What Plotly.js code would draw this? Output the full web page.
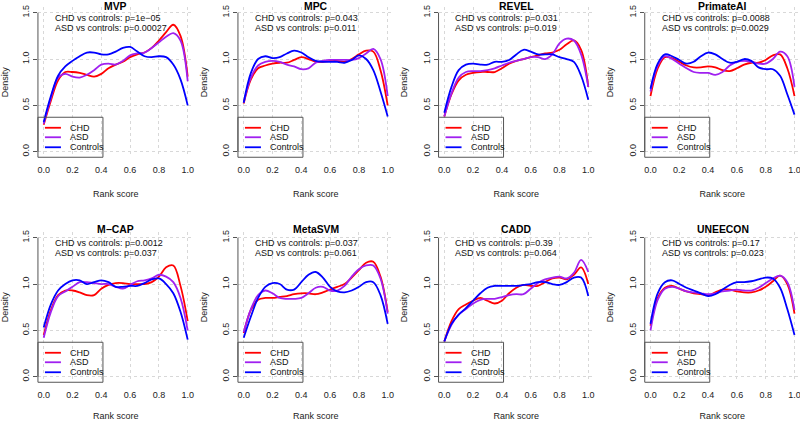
<!DOCTYPE html>
<html>
<head>
<meta charset="utf-8">
<script src="https://cdn.plot.ly/plotly-3.0.1.min.js"></script>
<style>html,body{margin:0;padding:0;background:#fff}</style>
</head>
<body>
<div id="graph" style="width:800px;height:421px"></div>
<script>
// Rank score grid the densities were read at
const rankScore = [0, 0.05, 0.1, 0.15, 0.2, 0.25, 0.3, 0.35, 0.4, 0.45, 0.5,
                   0.55, 0.6, 0.65, 0.7, 0.75, 0.8, 0.85, 0.9, 0.95, 1];

const methods = ['MVP', 'MPC', 'REVEL', 'PrimateAI', 'M\u2212CAP', 'MetaSVM', 'CADD', 'UNEECON'];
const pCHD = ['1e\u221205', '0.043', '0.031', '0.0088', '0.0012', '0.037', '0.39', '0.17'];
const pASD = ['0.00027', '0.011', '0.019', '0.0029', '0.037', '0.061', '0.064', '0.023'];

const groups = ['CHD', 'ASD', 'Controls'];
const groupColors = ['#FF0000', '#A020F0', '#0000FF'];

// density per method, same order as methods
const chdDensity = [
  [0.29,0.55,0.77,0.86,0.86,0.85,0.83,0.81,0.84,0.90,0.94,0.97,1.02,1.05,1.07,1.12,1.20,1.29,1.37,1.25,0.81],
  [0.52,0.78,0.90,0.93,0.95,0.96,0.96,0.99,1.02,1.00,0.97,0.97,0.98,0.98,0.97,1.00,1.05,1.09,1.08,0.88,0.50],
  [0.38,0.62,0.77,0.83,0.85,0.86,0.86,0.86,0.90,0.95,0.98,1.00,1.02,1.04,1.06,1.07,1.10,1.16,1.20,1.10,0.70],
  [0.60,0.90,1.02,1.01,0.97,0.93,0.91,0.91,0.92,0.91,0.88,0.87,0.90,0.94,0.96,0.96,0.99,1.04,1.05,0.90,0.60],
  [0.45,0.72,0.88,0.93,0.93,0.91,0.88,0.88,0.95,0.99,1.01,1.01,1.00,1.00,1.00,1.02,1.08,1.18,1.20,0.98,0.60],
  [0.47,0.72,0.83,0.85,0.85,0.86,0.87,0.89,0.90,0.90,0.89,0.91,0.94,0.97,1.00,1.07,1.15,1.23,1.24,1.08,0.70],
  [0.38,0.60,0.73,0.78,0.82,0.85,0.82,0.79,0.82,0.90,0.96,0.99,0.98,0.98,1.02,1.06,1.07,1.05,1.10,1.18,1.00],
  [0.55,0.85,0.96,0.98,0.95,0.92,0.90,0.89,0.88,0.91,0.94,0.94,0.92,0.91,0.91,0.93,0.97,1.03,1.09,1.00,0.68]
];
const asdDensity = [
  [0.30,0.58,0.80,0.84,0.81,0.80,0.83,0.88,0.94,0.95,0.94,0.98,1.04,1.06,1.07,1.12,1.18,1.24,1.28,1.20,0.76],
  [0.53,0.80,0.93,0.97,0.98,0.97,0.94,0.92,0.89,0.90,0.96,0.98,0.99,0.99,0.99,0.99,1.01,1.06,1.11,1.00,0.60],
  [0.38,0.63,0.80,0.86,0.87,0.87,0.88,0.90,0.93,0.96,0.98,1.00,1.02,1.02,1.00,1.05,1.17,1.22,1.20,1.05,0.70],
  [0.65,0.93,1.03,1.00,0.95,0.90,0.86,0.85,0.85,0.83,0.86,0.93,0.97,0.98,0.97,0.95,0.95,1.00,1.08,1.03,0.70],
  [0.42,0.70,0.87,0.92,0.97,1.02,1.02,1.01,1.00,1.00,0.97,0.95,0.99,1.03,1.04,1.06,1.10,1.08,1.02,0.85,0.50],
  [0.48,0.73,0.88,0.93,0.90,0.85,0.84,0.84,0.85,0.90,0.96,0.97,0.93,0.93,0.98,1.08,1.16,1.20,1.20,1.06,0.68],
  [0.38,0.56,0.67,0.73,0.79,0.83,0.84,0.84,0.86,0.88,0.89,0.89,0.95,1.01,1.05,1.07,1.08,1.06,1.12,1.26,1.13],
  [0.50,0.83,0.95,0.97,0.95,0.92,0.91,0.90,0.89,0.90,0.92,0.93,0.94,0.93,0.93,0.96,1.01,1.06,1.09,1.02,0.72]
];
const ctrlDensity = [
  [0.32,0.60,0.82,0.92,0.98,1.03,1.07,1.07,1.05,1.05,1.08,1.12,1.13,1.08,1.03,1.02,1.03,1.02,0.94,0.78,0.50],
  [0.53,0.85,1.00,1.03,1.01,1.02,1.06,1.09,1.07,1.02,0.98,0.97,0.97,0.97,0.96,0.99,1.04,1.00,0.88,0.65,0.38],
  [0.42,0.70,0.88,0.94,0.95,0.94,0.94,0.97,0.97,0.99,1.05,1.10,1.08,1.05,1.05,1.05,1.02,1.00,0.97,0.82,0.56],
  [0.68,0.95,1.05,1.03,0.99,0.95,0.97,1.03,1.07,1.05,1.00,0.96,0.97,1.00,0.98,0.91,0.89,0.89,0.82,0.62,0.40],
  [0.53,0.78,0.93,1.00,1.04,1.04,1.00,1.02,1.04,1.02,0.97,0.97,0.98,0.98,1.01,1.05,1.06,1.00,0.90,0.70,0.40],
  [0.42,0.65,0.85,0.97,1.01,1.00,0.94,0.94,1.02,1.10,1.13,1.07,0.97,0.92,0.91,0.93,0.97,1.02,1.02,0.88,0.57],
  [0.38,0.57,0.67,0.74,0.82,0.90,0.96,0.98,0.98,0.98,0.98,0.99,1.00,1.02,1.02,1.00,0.99,1.02,1.07,1.07,0.87],
  [0.57,0.90,1.02,1.04,1.00,0.96,0.93,0.90,0.87,0.89,0.94,0.99,1.02,1.02,1.03,1.05,1.07,1.06,0.96,0.73,0.45]
];
const allDensity = [chdDensity, asdDensity, ctrlDensity];

// page geometry (pixels)
const W = 800, H = 421;
const zeroX = [43.7, 243.7, 444.3, 650.5];   // where rank score 0 sits in each column
const zeroY = [151.7, 376.7];                // where density 0 sits in each row
const titleY = [6, 229];                     // centre of the panel titles
const pxPerX = 144, pxPerY = 92.67;
const baseFont = 'Liberation Sans, Arial, Helvetica, sans-serif';
const fs = 9;

const traces = [];
const layout = {
  width: W, height: H,
  margin: {l: 0, r: 0, t: 0, b: 0},
  paper_bgcolor: '#fff', plot_bgcolor: '#fff',
  font: {family: baseFont, size: fs, color: '#000'},
  showlegend: false,
  shapes: [], annotations: []
};

methods.forEach((name, i) => {
  const col = i % 4, row = Math.floor(i / 4);
  const n = i === 0 ? '' : String(i + 1);
  const xa = 'x' + n, ya = 'y' + n;

  const leftPx = zeroX[col] - 0.04 * pxPerX;
  const rightPx = Math.min(W, zeroX[col] + 1.04 * pxPerX);
  const botPx = zeroY[row] + 0.06 * pxPerY;
  const topPx = zeroY[row] - 1.56 * pxPerY;
  const plotW = rightPx - leftPx, plotH = botPx - topPx;

  layout['xaxis' + n] = {
    domain: [leftPx / W, rightPx / W],
    range: [-0.04, (rightPx - zeroX[col]) / pxPerX],
    anchor: ya,
    tickvals: [0, 0.2, 0.4, 0.6, 0.8, 1.0],
    tickformat: '.1f',
    ticklabeloverflow: 'allow',
    ticks: '', showline: false, zeroline: false,
    showgrid: true, gridcolor: '#d8d8d8', griddash: 'dot', gridwidth: 1,
    tickfont: {size: fs, color: '#222'},
    ticklabelstandoff: 6,
    title: {text: 'Rank score', font: {size: fs, color: '#222'}, standoff: 16},
    fixedrange: true
  };
  layout['yaxis' + n] = {
    domain: [1 - botPx / H, 1 - topPx / H],
    range: [-0.06, 1.56],
    anchor: xa,
    tickvals: [0, 0.5, 1.0, 1.5],
    tickformat: '.1f',
    tickangle: -90,
    ticks: 'outside', ticklen: 4, tickcolor: '#555', tickwidth: 1,
    showline: false, zeroline: false,
    showgrid: true, gridcolor: '#d8d8d8', griddash: 'dot', gridwidth: 1,
    tickfont: {size: fs, color: '#222'},
    title: {text: 'Density', font: {size: fs, color: '#222'}, standoff: 12},
    fixedrange: true
  };

  // density curves
  groups.forEach((g, k) => {
    traces.push({
      x: rankScore, y: allDensity[k][i],
      xaxis: xa, yaxis: ya,
      type: 'scatter', mode: 'lines', name: g,
      line: {color: groupColors[k], width: 1.8, shape: 'spline', smoothing: 1},
      hoverinfo: 'skip'
    });
  });

  // y axis line only between first and last tick, like base R
  layout.shapes.push({
    type: 'line', xref: xa + ' domain', yref: ya,
    x0: 0, x1: 0, y0: 0, y1: 1.5,
    line: {color: '#555', width: 1}
  });

  // panel title
  layout.annotations.push({
    text: '<b>' + name + '</b>', xref: xa, yref: 'paper',
    x: 0.5, y: 1 - titleY[row] / H, xanchor: 'center', yanchor: 'middle',
    showarrow: false, font: {size: 10.4, color: '#000'}
  });
  // p-values
  layout.annotations.push({
    text: 'CHD vs controls: p=' + pCHD[i], xref: xa, yref: ya,
    x: 0.063, y: 1.445, xanchor: 'left', yanchor: 'middle',
    showarrow: false, font: {size: fs, color: '#111'}
  });
  layout.annotations.push({
    text: 'ASD vs controls: p=' + pASD[i], xref: xa, yref: ya,
    x: 0.063, y: 1.33, xanchor: 'left', yanchor: 'middle',
    showarrow: false, font: {size: fs, color: '#111'}
  });

  // legend box, bottom left of plot region
  const boxW = 65, boxH = 40;
  layout.shapes.push({
    type: 'rect', xref: xa + ' domain', yref: ya + ' domain',
    x0: 0, x1: boxW / plotW, y0: 0, y1: boxH / plotH,
    line: {color: '#555', width: 1}, fillcolor: 'rgba(0,0,0,0)'
  });
  const rowPx = [10.5, 20, 30];
  groups.forEach((g, k) => {
    const yy = (boxH - rowPx[k]) / plotH;
    layout.shapes.push({
      type: 'line', xref: xa + ' domain', yref: ya + ' domain',
      x0: 7 / plotW, x1: 23 / plotW, y0: yy, y1: yy,
      line: {color: groupColors[k], width: 1.8}
    });
    layout.annotations.push({
      text: g, xref: xa + ' domain', yref: ya + ' domain',
      x: 30 / plotW, y: yy, xanchor: 'left', yanchor: 'middle',
      showarrow: false, font: {size: fs, color: '#111'}
    });
  });
});

Plotly.newPlot('graph', traces, layout, {displayModeBar: false, staticPlot: true});
</script>
</body>
</html>
